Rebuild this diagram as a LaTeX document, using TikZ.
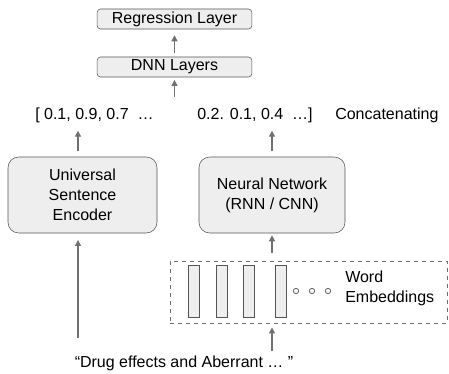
\documentclass[tikz,border=0pt]{standalone}
\usepackage{fontspec}
\setmainfont{Liberation Sans}
\usetikzlibrary{positioning,arrows.meta}
\definecolor{boxgray}{HTML}{555555}
\definecolor{boxfill}{HTML}{EEEEEE}
\definecolor{arrowgray}{HTML}{707070}

\begin{document}
\begin{tikzpicture}[x=0.75pt,y=-0.75pt,on grid,
  font=\fontsize{12}{15}\selectfont,
  >={Triangle[length=4.5pt,width=4.5pt]},
  every edge/.style={draw=arrowgray,line width=0.9pt},
  layer/.style={draw=boxgray,fill=boxfill,rounded corners=2.5pt,
    minimum width=116pt,minimum height=15pt,inner sep=1pt},
  block/.style={draw=boxgray,fill=boxfill,rounded corners=8pt,
    minimum height=57pt,align=center},
  bar/.style={draw=boxgray,fill=boxfill,minimum width=8.25pt,
    minimum height=39pt,inner sep=0pt},
  dot/.style={circle,draw=arrowgray,line width=0.7pt,minimum size=4pt,
    inner sep=0pt},
  txt/.style={inner sep=0pt,anchor=west}]
  \useasboundingbox (0,0) rectangle (449,374);
  \path
  node[layer] (reg) at (174.5,19) {Regression Layer}
  node[layer] (dnn) at (174.5,67) {DNN Layers}
  node[txt] (vec_l) at (35,115) {[ 0.1, 0.9, 0.7\ \ …}
  node[txt] (vec_r) at (197,115) {0.2. 0.1, 0.4\ \ …]}
  node[txt] (cat)   at (335,115) {Concatenating}
  node[block,minimum width=111.75pt] (use) at (82.5,195)
  {Universal\\Sentence\\Encoder}
  node[block,minimum width=109.5pt] (nn) at (272,195)
  {Neural Network\\(RNN / CNN)}
  node[draw=arrowgray,dashed,line width=0.7pt,minimum width=207.75pt,
    minimum height=46.5pt] (emb) at (308.5,292) {}
  node[bar] (bar_1) at (193.5,291) {}
  node[bar,right=21pt of bar_1] (bar_2) {}
  node[bar,right=20.6pt of bar_2] (bar_3) {}
  node[bar,right=23.6pt of bar_3] (bar_4) {}
  node[dot] (dot_1) at (296,291) {}
  node[dot,right=12pt of dot_1] (dot_2) {}
  node[dot,right=12pt of dot_2] (dot_3) {}
  node[txt,align=left] (word) at (345,288) {Word\\Embeddings}
  node[inner sep=0pt] (sent) at (184,363) {“Drug effects and Aberrant … ”}
  ;
  \coordinate (join) at (174.5,97);
  \path[->]
  (dnn) edge[shorten <=3pt,shorten >=4.5pt] (reg)
  (join) edge[shorten >=2pt] (dnn)

  (use.north -| 78,0) edge[shorten <=4pt,shorten >=6pt] (vec_l.south -| 78,0)
  (nn) edge[shorten <=4pt,shorten >=6pt] (nn |- vec_r.south)

  (nn |- emb.north) edge[shorten <=6pt,shorten >=1.5pt] (nn)
  (nn |- sent.north) edge[shorten <=3pt,shorten >=3pt] (nn |- emb.south)
  (sent.north -| 78,0) edge[shorten <=13pt,shorten >=5pt] (use.south -| 78,0)
  ;
\end{tikzpicture}
\end{document}
